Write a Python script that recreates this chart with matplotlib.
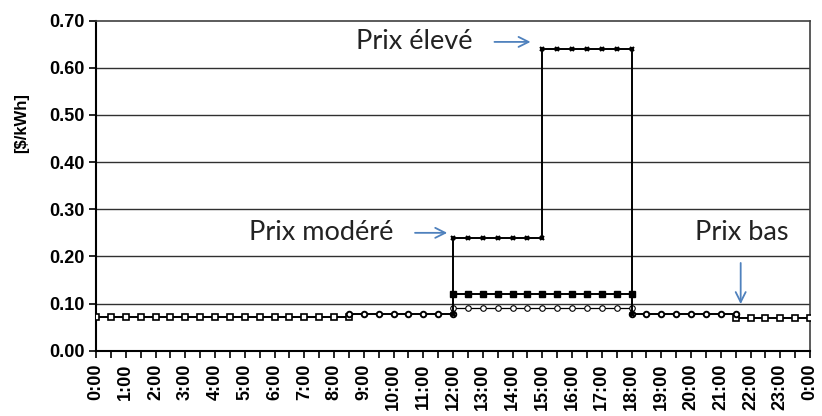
import numpy as np
import matplotlib.pyplot as plt
from matplotlib.ticker import MultipleLocator

# Prices in $/kWh; hours are in 30 min steps
low_hours_am = np.arange(0, 8.5 + 0.1, 0.5)
low_price_am = [0.072] * len(low_hours_am)
low_hours_pm = np.arange(21.5, 24 + 0.1, 0.5)
low_price_pm = [0.070] * len(low_hours_pm)

shoulder_hours_am = np.arange(8.5, 12 + 0.1, 0.5)
shoulder_price_am = [0.078] * len(shoulder_hours_am)
shoulder_hours_pm = np.arange(18, 21.5 + 0.1, 0.5)
shoulder_price_pm = [0.078] * len(shoulder_hours_pm)

peak_hours = np.arange(12, 18 + 0.1, 0.5)
flat_price = [0.120] * len(peak_hours)
circle_price = [0.090] * len(peak_hours)

# critical peak pricing step: moderate then high, back to shoulder at both ends
cpp_hours = [12, 12, 12.5, 13, 13.5, 14, 14.5, 15, 15, 15.5, 16, 16.5, 17, 17.5, 18, 18]
cpp_price = [0.078, 0.24, 0.24, 0.24, 0.24, 0.24, 0.24, 0.24,
             0.64, 0.64, 0.64, 0.64, 0.64, 0.64, 0.64, 0.078]

hour_labels = ['{}:00'.format(h % 24) for h in range(25)]

fig = plt.figure(figsize=(8.22, 4.16), dpi=100)
ax = fig.add_axes([96 / 822, 1 - 350.7 / 416, 714 / 822, 330 / 416])

for yv in np.arange(0.1, 0.65, 0.1):
    ax.axhline(yv, color='#303030', lw=1.0, zorder=1)

line_kw = dict(color='black', lw=1.4, zorder=3)
ax.plot(low_hours_am, low_price_am, marker='s', ms=4, mfc='white', mec='black', mew=1.2, **line_kw)
ax.plot(low_hours_pm, low_price_pm, marker='s', ms=4, mfc='white', mec='black', mew=1.2, **line_kw)
ax.plot(shoulder_hours_am, shoulder_price_am, marker='o', ms=4, mfc='white', mec='black', mew=1.4, **line_kw)
ax.plot(shoulder_hours_pm, shoulder_price_pm, marker='o', ms=4, mfc='white', mec='black', mew=1.4, **line_kw)
ax.plot(peak_hours, flat_price, marker='s', ms=4.5, mfc='black', mec='black', **line_kw)
ax.plot(peak_hours, circle_price, marker='o', ms=4, mfc='white', mec='black', mew=0.8,
        color='black', lw=0.9, zorder=3)
ax.plot(cpp_hours, cpp_price, marker='x', ms=3.5, mew=1.5, **line_kw)

ax.set_xlim(0, 24)
ax.set_ylim(0, 0.70)
ax.set_xticks(range(25))
ax.set_xticklabels(hour_labels, rotation=90)
ax.xaxis.set_minor_locator(MultipleLocator(0.5))
ax.set_yticks(np.arange(0, 0.71, 0.1))
ax.set_yticklabels(['{:.2f}'.format(v) for v in np.arange(0, 0.71, 0.1)])

for lab in ax.get_xticklabels() + ax.get_yticklabels():
    lab.set_fontfamily('Liberation Sans')
    lab.set_fontweight('bold')
    lab.set_fontsize(13)

ax.tick_params(axis='both', which='both', direction='out', length=5, width=1.2, color='black')
ax.tick_params(axis='x', which='both', pad=4)
ax.tick_params(axis='y', pad=3)

for side in ['left', 'bottom']:
    ax.spines[side].set_color('black')
    ax.spines[side].set_linewidth(1.5)
for side in ['top', 'right']:
    ax.spines[side].set_color('#404040')
    ax.spines[side].set_linewidth(1.2)

fig.text(22 / 822, 1 - 123 / 416, '[$/kWh]', rotation=90, ha='center', va='center',
         family='Liberation Sans', weight='bold', fontsize=12)

# annotations with blue arrows
note_font = dict(family='Lato', fontsize=19.5, color='#222222', va='center', ha='left')
arrow = dict(arrowstyle='->', color='#4F81BD', lw=1.3, mutation_scale=18)

ax.text(8.73, 0.655, 'Prix élevé', **note_font)
ax.annotate('', xy=(14.7, 0.655), xytext=(13.3, 0.655), arrowprops=arrow)

ax.text(5.13, 0.25, 'Prix modéré', **note_font)
ax.annotate('', xy=(11.9, 0.25), xytext=(10.63, 0.25), arrowprops=arrow)

ax.text(20.13, 0.25, 'Prix bas', **note_font)
ax.annotate('', xy=(21.67, 0.093), xytext=(21.67, 0.192), arrowprops=arrow)

fig.savefig('out.png', dpi=100)
